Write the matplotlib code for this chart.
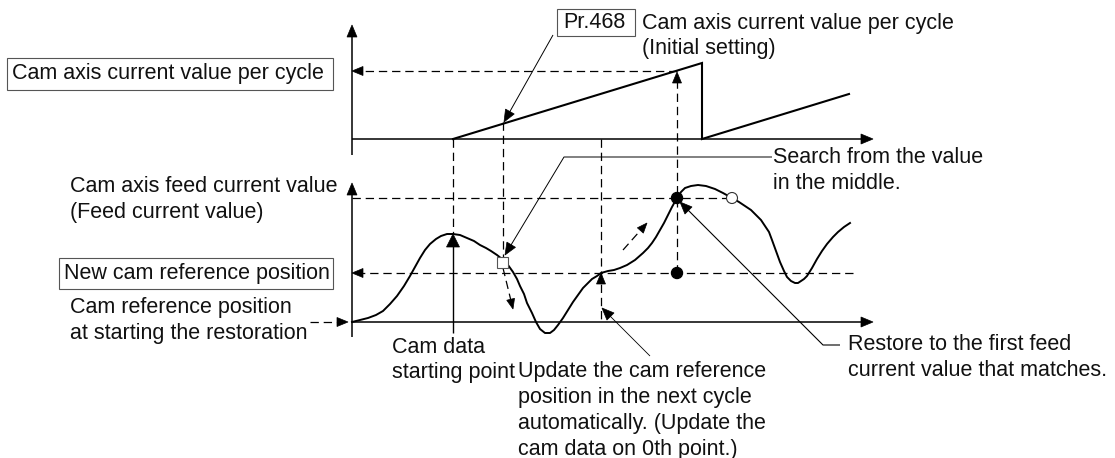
import matplotlib
matplotlib.use("Agg")
import matplotlib.pyplot as plt
from matplotlib.patches import Polygon, Rectangle, Circle
import numpy as np

plt.rcParams['font.family'] = ['Liberation Sans', 'DejaVu Sans']
plt.rcParams['lines.scale_dashes'] = False

# ---------------- data (diagram coordinates, pixel space) ----------------
# upper graph: cam axis current value per cycle (sawtooth)
saw_x = [453, 702, 702, 849]
saw_y = [139, 63, 139, 94]

# lower graph: cam axis feed current value
feed_x = [352, 360, 368, 376, 383, 390, 397, 404, 410, 415, 420, 425, 430, 436,
          441, 447, 453, 460, 467, 474, 480, 486, 491, 497, 502, 508, 513,
          517, 520, 524, 527, 532, 536, 540, 545, 550, 554, 558, 563, 568,
          573, 578, 583, 588, 592, 597, 601, 608, 614, 620, 627, 635, 643, 648,
          652, 656, 660, 664, 668, 672, 677, 681, 685, 691, 698, 706, 715, 723,
          732, 739, 745, 751, 756, 761, 765, 769, 772, 776, 780, 784, 787, 791,
          795, 798, 801, 804, 807, 812, 817, 822, 827, 833, 838, 844, 850]
feed_y = [322, 320, 318, 315, 311, 304, 296, 286, 276, 267, 258, 250, 244, 239,
          236, 234, 234, 235, 238, 241, 245, 248, 251, 255, 259, 265, 272,
          279, 286, 294, 303, 313, 322, 329, 333, 333, 330, 325, 318, 310,
          302, 295, 288, 283, 279, 276, 273, 271, 270, 268, 265, 260, 253, 248,
          243, 237, 230, 223, 215, 207, 198, 192, 188, 186, 185, 186, 189, 193,
          198, 202, 206, 210, 215, 220, 226, 232, 240, 251, 262, 271, 277, 281,
          283, 283, 281, 279, 276, 268, 259, 251, 244, 237, 232, 227, 223]

labels_left = ["Cam axis current value per cycle",
               "Cam axis feed current value\n(Feed current value)",
               "New cam reference position",
               "Cam reference position\nat starting the restoration"]
label_pr = "Pr.468"
label_pr_text = "Cam axis current value per cycle\n(Initial setting)"
label_search = "Search from the value\nin the middle."
label_restore = "Restore to the first feed\ncurrent value that matches."
label_camdata = "Cam data\nstarting point"
label_update = ("Update the cam reference\nposition in the next cycle\n"
                "automatically. (Update the\ncam data on 0th point.)")

# ---------------- figure ----------------
fig = plt.figure(figsize=(11.15, 4.58), dpi=100)
ax = fig.add_axes([0, 0, 1, 1])
ax.set_xlim(0, 1115)
ax.set_ylim(458, 0)
ax.axis('off')

FS = 15.5
K = 'black'
DASH = (6, 3.5)


def head(tip, frm, L=12, W=5, color=K):
    tip = np.array(tip, float)
    frm = np.array(frm, float)
    d = tip - frm
    d /= np.hypot(*d)
    n = np.array([-d[1], d[0]])
    base = tip - d * L
    ax.add_patch(Polygon([tip, base + n * W, base - n * W], closed=True,
                         facecolor=color, edgecolor=color, lw=0.5, zorder=5))


def line(xs, ys, lw=1.1, dashed=False, arrow=False, L=12, W=5, color=K, z=3):
    kw = dict(color=color, lw=lw, zorder=z, solid_capstyle='butt',
              solid_joinstyle='round')
    if dashed:
        kw['dashes'] = DASH
    if arrow:
        tip = np.array([xs[-1], ys[-1]], float)
        prev = np.array([xs[-2], ys[-2]], float)
        d = tip - prev
        d /= np.hypot(*d)
        end = tip - d * (L * 0.6)
        xs = list(xs[:-1]) + [end[0]]
        ys = list(ys[:-1]) + [end[1]]
    ax.plot(xs, ys, **kw)
    if arrow:
        head(tip, prev, L=L, W=W, color=color)


# axes of both graphs
line([352, 352], [155, 25], lw=1.1, arrow=True)
line([352, 873], [139, 139], lw=1.1, arrow=True)
line([352, 352], [337, 183], lw=1.1, arrow=True)
line([352, 873], [322, 322], lw=1.1, arrow=True)

# sawtooth
ax.plot(saw_x, saw_y, color=K, lw=1.5, zorder=4, solid_joinstyle='miter')

# feed curve
ax.plot(feed_x, feed_y, color=K, lw=1.4, zorder=4, solid_joinstyle='round')

# dashed guide lines
line([677, 352], [71, 71], lw=0.9, dashed=True, arrow=True, L=11, W=4.5)
line([677, 677], [273, 72], lw=0.9, dashed=True, arrow=True, L=11, W=4.5)
line([453, 453], [139, 234], lw=0.9, dashed=True)
line([503, 503], [122, 262], lw=0.9, dashed=True)
line([601, 601], [139, 322], lw=0.9, dashed=True)
line([352, 732], [198, 198], lw=0.9, dashed=True)
line([853, 352], [273, 273], lw=0.9, dashed=True, arrow=True, L=11, W=4.5)
line([310, 348], [322, 322], lw=0.9, dashed=True, arrow=True, L=11, W=4.5)
# solid arrow to the peak (cam data starting point)
line([453, 453], [333, 234], lw=1.0, arrow=True, L=13, W=6.5)
# up arrow at new reference point
head((601, 273), (601, 290), L=11, W=4.5)

# small dashed direction arrows
line([503, 513], [268, 309], lw=0.9, dashed=True, arrow=True, L=10, W=4)
line([623, 647], [250, 223], lw=0.9, dashed=True, arrow=True, L=10, W=4)

# markers
ax.add_patch(Circle((677, 198), 5.5, facecolor=K, edgecolor=K, zorder=6))
ax.add_patch(Circle((677, 273), 5.5, facecolor=K, edgecolor=K, zorder=6))
ax.add_patch(Circle((732, 198), 5.5, facecolor='white', edgecolor='#333333',
                    lw=0.8, zorder=6))
ax.add_patch(Rectangle((497, 257), 11, 11, facecolor='white',
                       edgecolor='#555555', lw=0.8, zorder=6))

# callout lines
line([553, 504], [35, 122], lw=0.7, arrow=True, L=12, W=5)
line([772, 564, 505], [157, 157, 255], lw=0.7, arrow=True, L=12, W=5)
line([840, 823, 680], [345, 345, 202], lw=0.8, arrow=True, L=12, W=5)
line([650, 602], [356, 308], lw=0.6, arrow=True, L=12, W=5)

# text boxes
ax.add_patch(Rectangle((7, 58), 326, 32, facecolor='none', edgecolor='#555555',
                       lw=0.8, zorder=2))
ax.add_patch(Rectangle((59, 258), 274, 31, facecolor='none',
                       edgecolor='#555555', lw=0.8, zorder=2))
ax.add_patch(Rectangle((557, 9), 78, 27, facecolor='none', edgecolor='#555555',
                       lw=0.8, zorder=2))

tk = dict(fontsize=FS, color='#111111', va='center', ha='left',
          linespacing=1.3)
ax.text(12, 74, labels_left[0], **tk)
ax.text(70, 199.5, labels_left[1], **tk)
ax.text(64, 274, labels_left[2], **tk)
ax.text(70, 320.5, labels_left[3], **tk)
ax.text(563, 23, label_pr, **tk)
ax.text(642, 36, label_pr_text, **tk)
ax.text(773, 170.5, label_search, **tk)
ax.text(848, 357.5, label_restore, **tk)
ax.text(392, 360, label_camdata, **tk)
ax.text(518, 410.5, label_update, **tk)

fig.savefig('out.png', dpi=100, facecolor='white')
